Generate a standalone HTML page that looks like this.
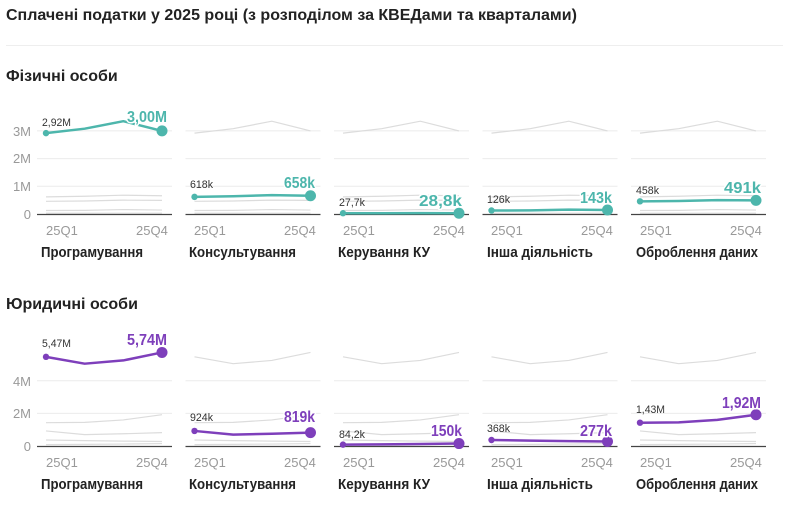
<!DOCTYPE html>
<html><head><meta charset="utf-8"><style>
html,body{margin:0;padding:0;background:#fff}
svg{display:block;font-family:"Liberation Sans",sans-serif}
.t{font-weight:bold;fill:#222}
.ax{font-size:13px;fill:#999}
.cat{font-size:15px;font-weight:bold;fill:#222}
.fv{font-size:11px;fill:#333}
.lv{font-size:16px;font-weight:bold;stroke:#fff;stroke-width:3px;paint-order:stroke;stroke-linejoin:round}
</style></head><body>
<svg id="s" width="789" height="507" viewBox="0 0 789 507">
<text x="6" y="20" class="t" style="font-size:16px">Сплачені податки у 2025 році (з розподілом за КВЕДами та кварталами)</text>
<line x1="6" y1="45.5" x2="783" y2="45.5" stroke="#eee"/>
<text x="6" y="81" class="t" style="font-size:16px">Фізичні особи</text>
<text x="6" y="309" class="t" style="font-size:16px">Юридичні особи</text>
<g id="g"></g>
<g class="ax" text-anchor="end">
<text x="31" y="136">3M</text><text x="31" y="163">2M</text><text x="31" y="191">1M</text><text x="31" y="219">0</text>
<text x="31" y="386">4M</text><text x="31" y="418">2M</text><text x="31" y="451">0</text>
</g>
<g class="ax">
<text x="46" y="235">25Q1</text><text x="136" y="235">25Q4</text>
<text x="194" y="235">25Q1</text><text x="284" y="235">25Q4</text>
<text x="343" y="235">25Q1</text><text x="433" y="235">25Q4</text>
<text x="491" y="235">25Q1</text><text x="581" y="235">25Q4</text>
<text x="640" y="235">25Q1</text><text x="730" y="235">25Q4</text>
<text x="46" y="467">25Q1</text><text x="136" y="467">25Q4</text>
<text x="194" y="467">25Q1</text><text x="284" y="467">25Q4</text>
<text x="343" y="467">25Q1</text><text x="433" y="467">25Q4</text>
<text x="491" y="467">25Q1</text><text x="581" y="467">25Q4</text>
<text x="640" y="467">25Q1</text><text x="730" y="467">25Q4</text>
</g>
<g class="cat" lengthAdjust="spacingAndGlyphs">
<text x="41" y="257" textLength="102" lengthAdjust="spacingAndGlyphs">Програмування</text><text x="189" y="257" textLength="107" lengthAdjust="spacingAndGlyphs">Консультування</text><text x="338" y="257" textLength="92" lengthAdjust="spacingAndGlyphs">Керування КУ</text><text x="487" y="257" textLength="106" lengthAdjust="spacingAndGlyphs">Інша діяльність</text><text x="636" y="257" textLength="122" lengthAdjust="spacingAndGlyphs">Оброблення даних</text>
<text x="41" y="489" textLength="102" lengthAdjust="spacingAndGlyphs">Програмування</text><text x="189" y="489" textLength="107" lengthAdjust="spacingAndGlyphs">Консультування</text><text x="338" y="489" textLength="92" lengthAdjust="spacingAndGlyphs">Керування КУ</text><text x="487" y="489" textLength="106" lengthAdjust="spacingAndGlyphs">Інша діяльність</text><text x="636" y="489" textLength="122" lengthAdjust="spacingAndGlyphs">Оброблення даних</text>
</g>
<g id="lab"></g>
</svg>
<script>
var g=document.getElementById('g'),NS='http://www.w3.org/2000/svg';
function el(t,a){var e=document.createElementNS(NS,t);for(var k in a)e.setAttribute(k,a[k]);g.appendChild(e);return e;}
var tp=[[2.92,3.08,3.35,3.0],[0.618,0.64,0.68,0.658],[0.0277,0.028,0.03,0.0288],[0.126,0.13,0.16,0.143],[0.458,0.47,0.5,0.491]];
var bt=[[5.47,5.05,5.25,5.74],[0.924,0.7,0.75,0.819],[0.0842,0.1,0.12,0.15],[0.368,0.33,0.3,0.277],[1.43,1.45,1.6,1.92]];
function sec(data,y0,k,grid,col){
 for(var i=0;i<5;i++){
  var ox=148.5*i, gx1=37+ox, gx2=172+ox;
  grid.forEach(function(v){el('line',{x1:gx1,x2:gx2,y1:y0-v*k,y2:y0-v*k,stroke:'#ebebeb','stroke-width':1});});
  for(var j=0;j<5;j++){ if(j==i)continue;
   var d=data[j],p=d.map(function(v,q){return (46+ox+q*116/3)+','+(y0-v*k)}).join(' ');
   el('polyline',{points:p,fill:'none',stroke:'#dcdcdc','stroke-width':1.2});}
  el('line',{x1:gx1,x2:gx2,y1:y0+0.5,y2:y0+0.5,stroke:'#444','stroke-width':1.3});
 }
 for(var i=0;i<5;i++){var ox=148.5*i,d=data[i];
  var p=d.map(function(v,q){return (46+ox+q*116/3)+','+(y0-v*k)}).join(' ');
  el('polyline',{points:p,fill:'none',stroke:col,'stroke-width':2.5,'stroke-linejoin':'round'});
  el('circle',{cx:46+ox,cy:y0-d[0]*k,r:3.2,fill:col});
  el('circle',{cx:162+ox,cy:y0-d[3]*k,r:5.5,fill:col});
 }
}
sec(tp,214,27.7,[1,2,3],'#4db6ac');
sec(bt,446,16.3,[2,4],'#7e3fbb');
</script>
<script>
(function(){
var L=document.getElementById('lab'),NS='http://www.w3.org/2000/svg';
function tx(x,y,cls,s,fill,anchor,len){var e=document.createElementNS(NS,'text');e.setAttribute('x',x);e.setAttribute('y',y);e.setAttribute('class',cls);if(fill)e.setAttribute('fill',fill);if(anchor)e.setAttribute('text-anchor',anchor);if(len){e.setAttribute('textLength',len);e.setAttribute('lengthAdjust','spacingAndGlyphs');}e.textContent=s;L.appendChild(e);}
})();
</script>
<svg width="0" height="0" style="position:absolute"></svg>
<style>#ov{position:absolute;left:0;top:0}</style>
<svg id="ov" width="789" height="507" viewBox="0 0 789 507" style="font-family:'Liberation Sans',sans-serif">
<text class="fv" x="42" y="126" textLength="29" lengthAdjust="spacingAndGlyphs">2,92M</text><text class="lv" x="167" y="122" text-anchor="end" fill="#4db6ac" textLength="40" lengthAdjust="spacingAndGlyphs">3,00M</text>
<text class="fv" x="190" y="188" textLength="23" lengthAdjust="spacingAndGlyphs">618k</text><text class="lv" x="315" y="188" text-anchor="end" fill="#4db6ac" textLength="31" lengthAdjust="spacingAndGlyphs">658k</text>
<text class="fv" x="339" y="206" textLength="26" lengthAdjust="spacingAndGlyphs">27,7k</text><text class="lv" x="462" y="206" text-anchor="end" fill="#4db6ac" textLength="43" lengthAdjust="spacingAndGlyphs">28,8k</text>
<text class="fv" x="487" y="203" textLength="23" lengthAdjust="spacingAndGlyphs">126k</text><text class="lv" x="612" y="203" text-anchor="end" fill="#4db6ac" textLength="32" lengthAdjust="spacingAndGlyphs">143k</text>
<text class="fv" x="636" y="194" textLength="23" lengthAdjust="spacingAndGlyphs">458k</text><text class="lv" x="761" y="193" text-anchor="end" fill="#4db6ac" textLength="37" lengthAdjust="spacingAndGlyphs">491k</text>
<text class="fv" x="42" y="347" textLength="29" lengthAdjust="spacingAndGlyphs">5,47M</text><text class="lv" x="167" y="345" text-anchor="end" fill="#7e3fbb" textLength="40" lengthAdjust="spacingAndGlyphs">5,74M</text>
<text class="fv" x="190" y="421" textLength="23" lengthAdjust="spacingAndGlyphs">924k</text><text class="lv" x="315" y="422" text-anchor="end" fill="#7e3fbb" textLength="31" lengthAdjust="spacingAndGlyphs">819k</text>
<text class="fv" x="339" y="438" textLength="26" lengthAdjust="spacingAndGlyphs">84,2k</text><text class="lv" x="462" y="436" text-anchor="end" fill="#7e3fbb" textLength="31" lengthAdjust="spacingAndGlyphs">150k</text>
<text class="fv" x="487" y="432" textLength="23" lengthAdjust="spacingAndGlyphs">368k</text><text class="lv" x="612" y="436" text-anchor="end" fill="#7e3fbb" textLength="32" lengthAdjust="spacingAndGlyphs">277k</text>
<text class="fv" x="636" y="413" textLength="29" lengthAdjust="spacingAndGlyphs">1,43M</text><text class="lv" x="761" y="408" text-anchor="end" fill="#7e3fbb" textLength="39" lengthAdjust="spacingAndGlyphs">1,92M</text>
</svg>
</body></html>
